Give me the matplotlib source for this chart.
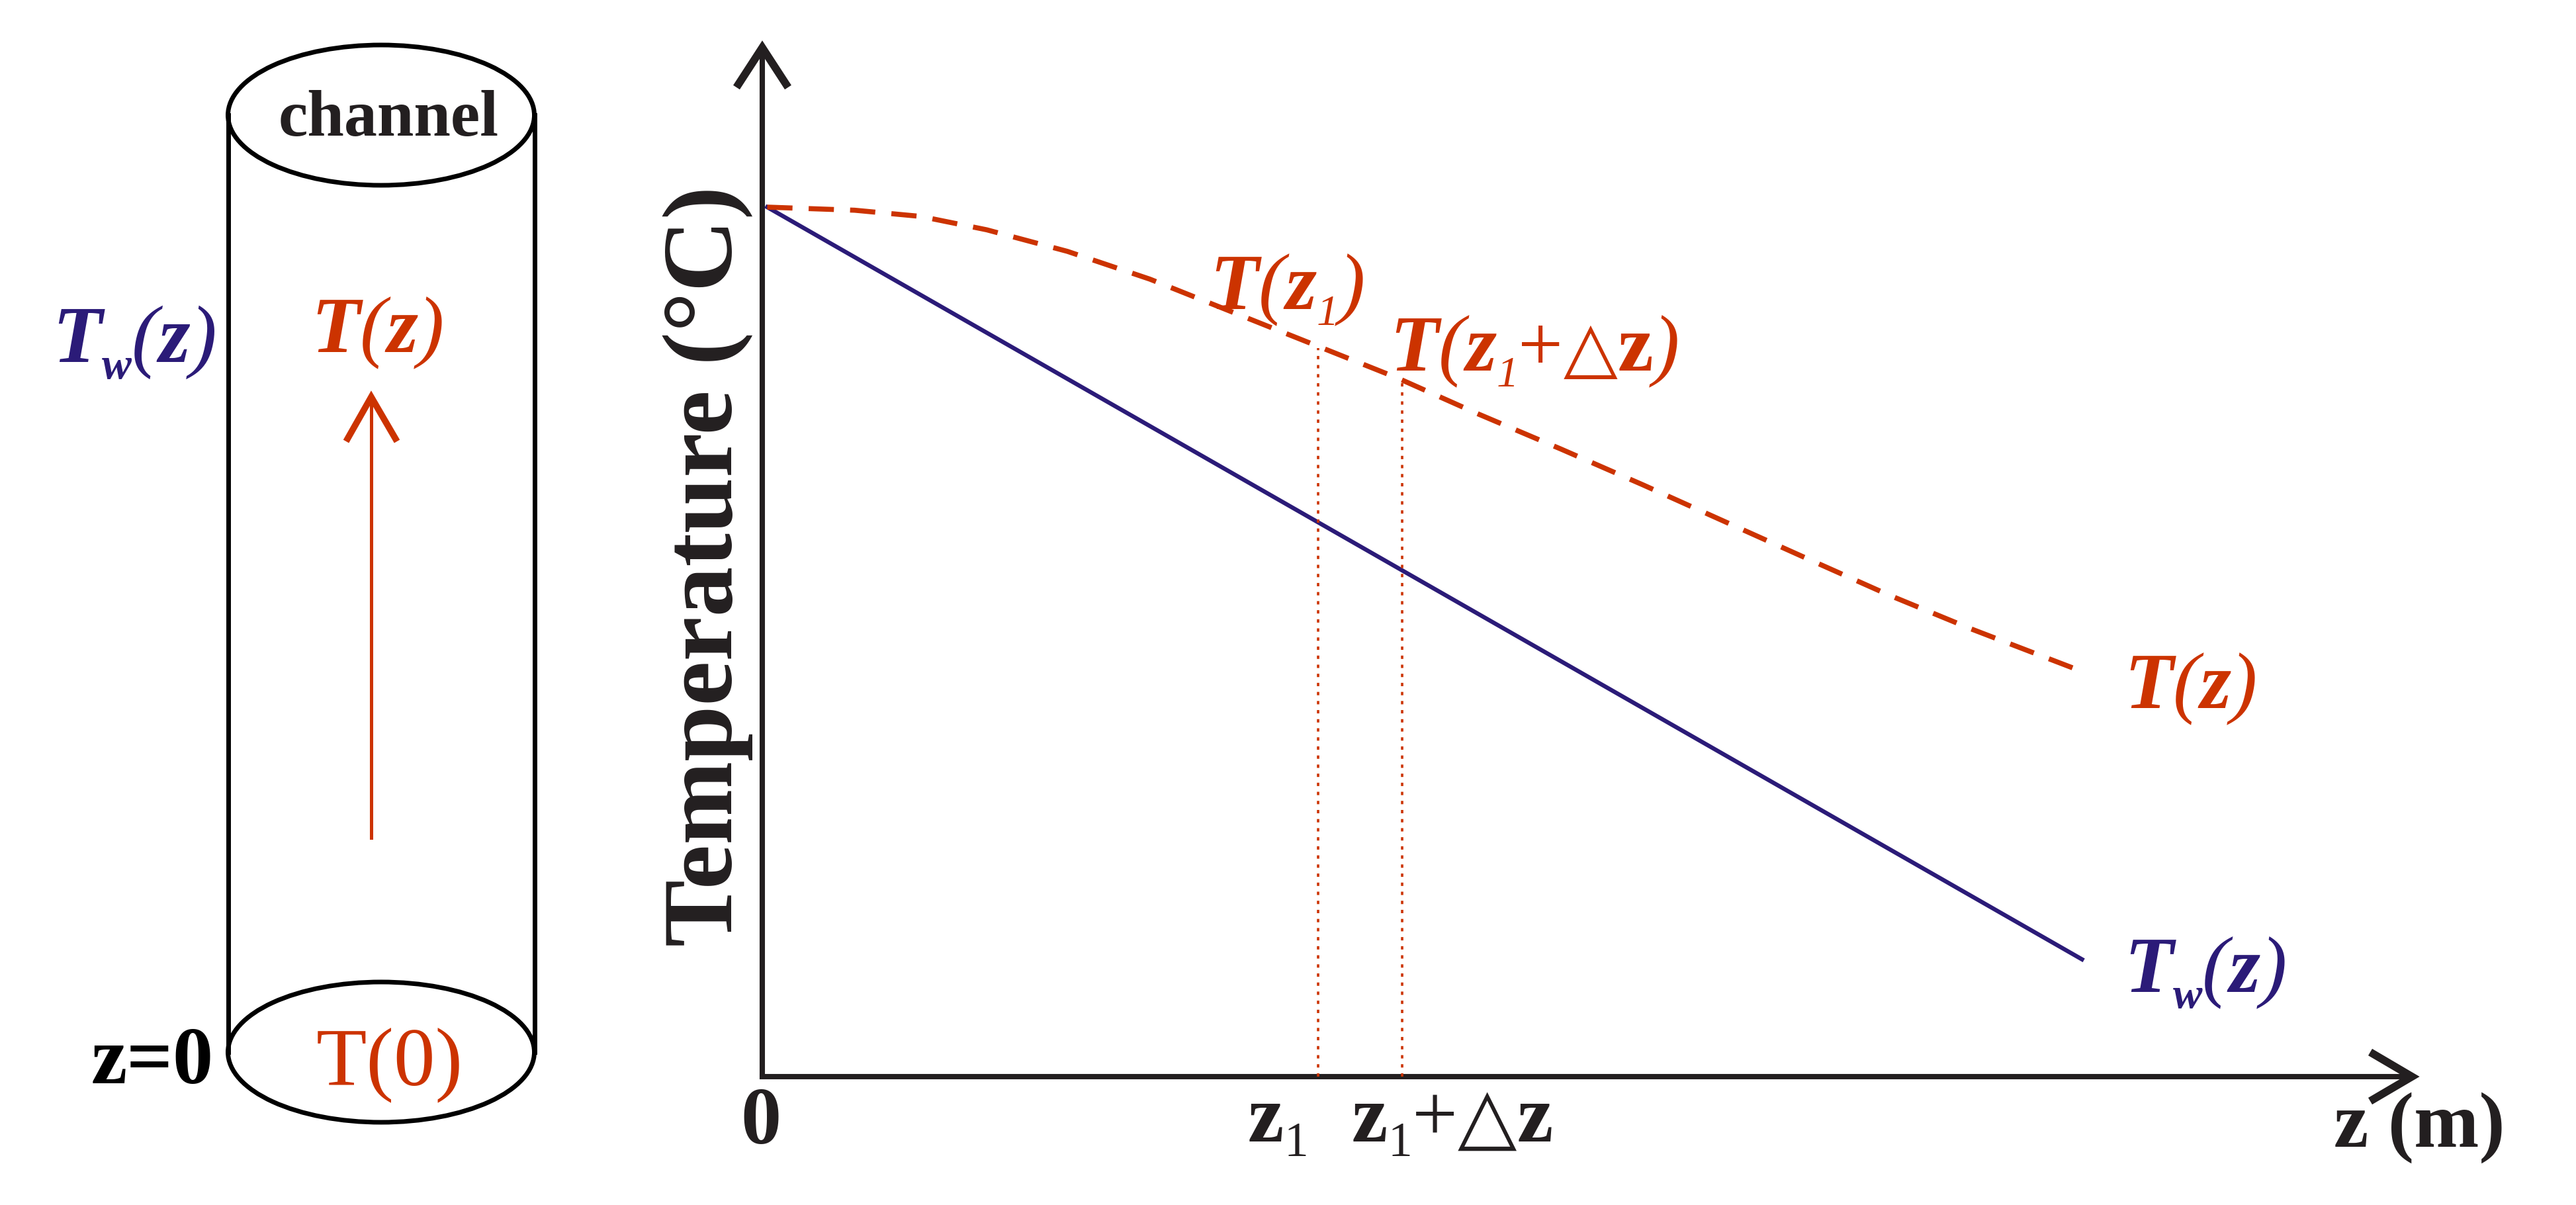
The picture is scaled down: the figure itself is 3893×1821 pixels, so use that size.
import numpy as np
import matplotlib
matplotlib.use("Agg")
import matplotlib.pyplot as plt
from matplotlib.patches import Ellipse

plt.rcParams['font.family'] = ['Liberation Serif', 'DejaVu Serif']

# data (arbitrary units, axis span 0..10)
z_wall = [0.03, 8.00]
T_wall = [8.45, 1.14]

z_fluid = [0.03, 0.56, 0.96, 1.36, 1.85, 2.35, 2.85, 3.35, 3.85, 4.34,
           4.84, 5.34, 5.84, 6.34, 6.83, 7.33, 7.98]
T_fluid = [8.45, 8.42, 8.36, 8.23, 8.02, 7.75, 7.43, 7.11, 6.79, 6.44,
           6.10, 5.75, 5.39, 5.03, 4.68, 4.35, 3.95]

z_marks = [3.37, 3.88]
T_marks = [7.08, 6.74]

ORANGE = '#cc3300'
NAVY = '#2b1b78'
INK = '#231f20'

W, H = 3893, 1821
SERIF = 'Liberation Serif'
SYM = 'DejaVu Sans'


def chevron(ax, tip, left, right, lw, color):
    ax.plot([left[0], tip[0], right[0]], [left[1], tip[1], right[1]],
            color=color, lw=lw, solid_joinstyle='miter', solid_capstyle='butt')


def chain(ax, x, y, pieces, color, size):
    # draw text pieces one after another along a baseline
    r = ax.figure.canvas.get_renderer()
    for s, scale, style, weight, dy, fam in pieces:
        t = ax.text(x, y + dy * size, s, fontsize=size * scale, style=style,
                    weight=weight, family=fam, color=color, va='baseline')
        x += t.get_window_extent(r).width


def T_label(sub=None, zsub=None, extra=False):
    p = [('T', 1, 'italic', 'bold', 0, SERIF)]
    if sub:
        p.append((sub, 0.55, 'italic', 'bold', 0.28, SERIF))
    p.append(('(', 1, 'italic', 'normal', 0, SERIF))
    p.append(('z', 1, 'italic', 'bold', 0, SERIF))
    if zsub:
        p.append((zsub, 0.55, 'italic', 'normal', 0.28, SERIF))
    if extra:
        p.append(('+', 1, 'normal', 'normal', 0, SERIF))
        p.append(('\u25b3', 0.88, 'normal', 'normal', 0, SYM))
        p.append(('z', 1, 'normal', 'bold', 0, SERIF))
    p.append((')', 1, 'italic', 'normal', 0, SERIF))
    return p


def main():
    fig = plt.figure(figsize=(W / 100, H / 100), dpi=100)

    # overlay in pixel coordinates for the sketch parts
    ov = fig.add_axes([0, 0, 1, 1])
    ov.set_xlim(0, W)
    ov.set_ylim(H, 0)
    ov.axis('off')

    # ---- cylinder ----
    cx, rx, ry = 576, 463, 212
    ov.add_patch(Ellipse((cx, 174), rx, ry, fill=False, lw=5, ec='black'))
    ov.add_patch(Ellipse((cx, 1590), rx, ry, fill=False, lw=5, ec='black'))
    ov.plot([345, 345], [174, 1590], color='black', lw=5)
    ov.plot([808, 808], [174, 1590], color='black', lw=5)

    ov.plot([561, 561], [1266, 606], color=ORANGE, lw=3.6)
    chevron(ov, (561, 600), (523, 667), (600, 667), 7, ORANGE)

    ov.text(421, 205, 'channel', fontsize=72, fontweight='bold', color=INK, va='baseline')
    chain(ov, 79, 547, T_label(sub='w'), NAVY, 88)
    chain(ov, 470, 532, T_label(), ORANGE, 87)
    ov.text(323, 1637, 'z=0', fontsize=88, fontweight='bold', color='black',
            va='baseline', ha='right')
    ov.text(478, 1640, 'T(0)', fontsize=90, color=ORANGE, va='baseline')

    # ---- axes arrows ----
    ov.plot([1152, 1152], [1627, 80], color=INK, lw=5.8)
    chevron(ov, (1152, 72), (1113, 132), (1191, 132), 8.5, INK)
    ov.plot([1152, 3637], [1627, 1627], color=INK, lw=5.8)
    chevron(ov, (3645, 1627), (3582, 1590), (3582, 1664), 8.5, INK)

    ov.text(1070, 855, 'Temperature (°C)', fontsize=109, fontweight='bold', color=INK,
            rotation=90, ha='center', va='center')
    ov.text(1150, 1728, '0', fontsize=88, fontweight='bold', color=INK,
            ha='center', va='baseline')
    z1 = [('z', 1, 'normal', 'bold', 0, SERIF),
          ('1', 0.6, 'normal', 'normal', 0.25, SERIF)]
    chain(ov, 1886, 1725, z1, INK, 88)
    z1dz = z1 + [('+', 1, 'normal', 'normal', 0, SERIF),
                 ('\u25b3', 0.95, 'normal', 'normal', 0, SYM),
                 ('z', 1, 'normal', 'bold', 0, SERIF)]
    chain(ov, 2043, 1725, z1dz, INK, 88)
    ov.text(3527, 1733, 'z (m)', fontsize=85, fontweight='bold', color=INK, va='baseline')

    chain(ov, 1828, 467, T_label(zsub='1'), ORANGE, 87)
    chain(ov, 2100, 560, T_label(zsub='1', extra=True), ORANGE, 87)
    chain(ov, 3210, 1070, T_label(), ORANGE, 87)
    chain(ov, 3210, 1499, T_label(sub='w'), NAVY, 87)

    # ---- data axes ----
    ax = fig.add_axes([1152 / W, (H - 1627) / H, (3645 - 1152) / W, (1627 - 72) / H])
    ax.set_xlim(0, 10)
    ax.set_ylim(0, 10)
    ax.axis('off')

    ax.plot(z_wall, T_wall, color=NAVY, lw=4.6, clip_on=False)
    ax.plot(z_fluid, T_fluid, color=ORANGE, lw=5.5, dashes=(5.0, 3.2), clip_on=False)
    for zm, tm in zip(z_marks, T_marks):
        ax.plot([zm, zm], [0, tm], color=ORANGE, lw=2.6, dashes=(1.4, 2.4), clip_on=False)

    fig.savefig('out.png', dpi=100)


if __name__ == "__main__":
    main()
